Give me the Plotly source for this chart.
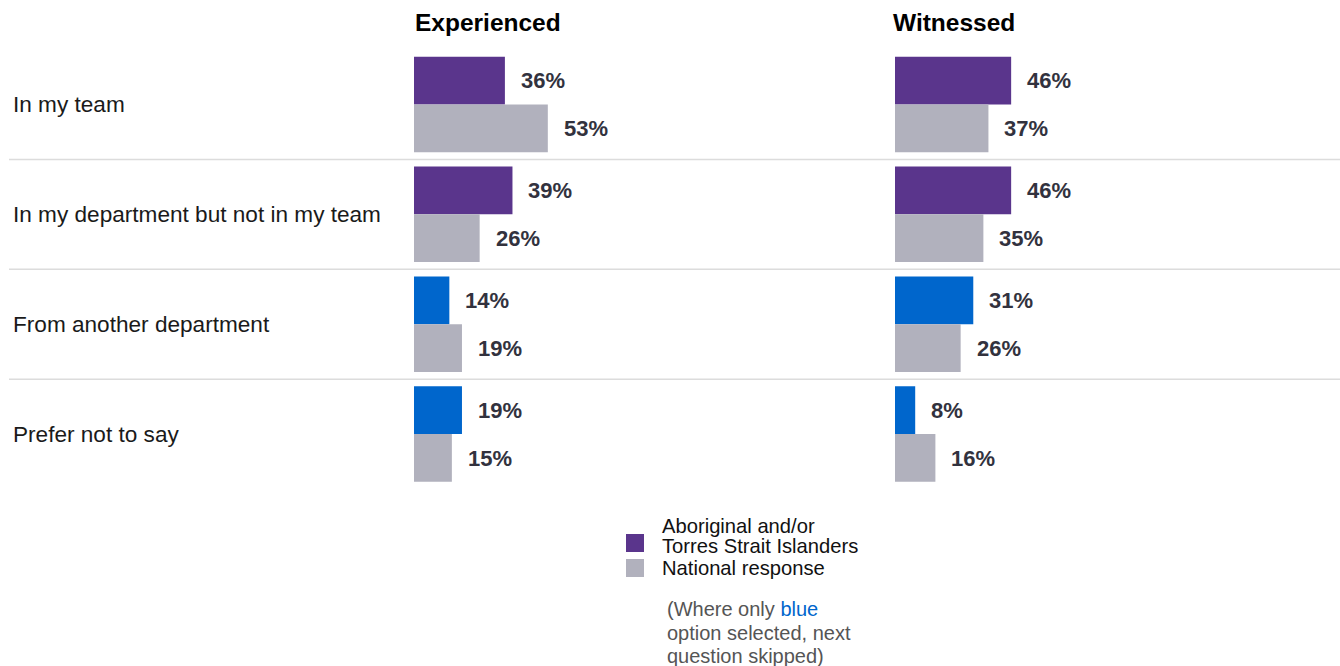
import plotly.graph_objects as go

# ---- data ----
categories = [
    "In my team",
    "In my department but not in my team",
    "From another department",
    "Prefer not to say",
]
experienced_group = [36, 39, 14, 19]
experienced_national = [53, 26, 19, 15]
witnessed_group = [46, 46, 31, 8]
witnessed_national = [37, 35, 26, 16]
# rows where only the blue option was selected (next question skipped)
blue_only = [False, False, True, True]

panel_titles = ["Experienced", "Witnessed"]
legend_group = ["Aboriginal and/or", "Torres Strait Islanders"]
legend_national = "National response"

# ---- styling ----
W, H = 1340, 666
PURPLE = "#5a358c"
BLUE = "#0066cc"
GREY = "#b1b1bd"
LABEL = "#32323e"
FONT = "Liberation Sans, Arial, sans-serif"

group_colors = [BLUE if b else PURPLE for b in blue_only]

def px_x(p):
    return p / W

def px_y(p):
    return 1 - p / H

PX_PER_PCT = 2.525
panel_left = [414, 895]

fig = go.Figure()

panels = [
    ("x", experienced_group, experienced_national),
    ("x2", witnessed_group, witnessed_national),
]
for xa, grp, nat in panels:
    fig.add_trace(go.Bar(
        y=categories, x=grp, orientation="h", xaxis=xa, yaxis="y",
        marker=dict(color=group_colors, line=dict(width=0)),
        hoverinfo="x+y", showlegend=False,
    ))
    fig.add_trace(go.Bar(
        y=categories, x=nat, orientation="h", xaxis=xa, yaxis="y",
        marker=dict(color=GREY, line=dict(width=0)),
        hoverinfo="x+y", showlegend=False,
    ))

annotations = []
# value labels
for xa, grp, nat in panels:
    for cat, g, n in zip(categories, grp, nat):
        for val, shift in ((g, 24), (n, -24)):
            annotations.append(dict(
                x=val, y=cat, xref=xa, yref="y", xanchor="left", yanchor="middle",
                xshift=14, yshift=shift, showarrow=False,
                text=f"<b>{val}%</b>",
                font=dict(family=FONT, size=22, color=LABEL),
            ))

# category labels
for cat in categories:
    annotations.append(dict(
        x=px_x(11), y=cat, xref="paper", yref="y", xanchor="left", yanchor="middle",
        showarrow=False, text=cat, font=dict(family=FONT, size=22.6, color="#1a1a1a"),
    ))

# panel titles
for title, left in zip(panel_titles, [413, 891]):
    annotations.append(dict(
        x=px_x(left), y=px_y(23), xref="paper", yref="paper", xanchor="left",
        yanchor="middle", showarrow=False, text=f"<b>{title}</b>",
        font=dict(family=FONT, size=24.5, color="#000000"),
    ))

# legend text
for line, yy in zip(legend_group, [526, 546]):
    annotations.append(dict(
        x=px_x(660), y=px_y(yy), xref="paper", yref="paper", xanchor="left",
        yanchor="middle", showarrow=False, text=line,
        font=dict(family=FONT, size=20.2, color="#111111"),
    ))
annotations.append(dict(
    x=px_x(660), y=px_y(568), xref="paper", yref="paper", xanchor="left",
    yanchor="middle", showarrow=False, text=legend_national,
    font=dict(family=FONT, size=20.2, color="#111111"),
))

# footnote
note_lines = [
    f"(Where only <span style='color:{BLUE}'>blue</span>",
    "option selected, next",
    "question skipped)",
]
for line, yy in zip(note_lines, [609, 633, 656]):
    annotations.append(dict(
        x=px_x(665), y=px_y(yy), xref="paper", yref="paper", xanchor="left",
        yanchor="middle", showarrow=False, text=line,
        font=dict(family=FONT, size=20, color="#555555"),
    ))

shapes = []
# row separators
for k in range(len(categories) - 1):
    shapes.append(dict(
        type="line", xref="paper", yref="y", x0=px_x(9), x1=1,
        y0=k + 0.5, y1=k + 0.5, line=dict(color="#dcdcdc", width=1.5),
    ))
# legend swatches
for color, top in ((PURPLE, 534), (GREY, 559)):
    shapes.append(dict(
        type="rect", xref="paper", yref="paper",
        x0=px_x(626), x1=px_x(644), y0=px_y(top + 18), y1=px_y(top),
        fillcolor=color, line=dict(width=0),
    ))

axis_common = dict(visible=False, showgrid=False, zeroline=False, range=[0, 100], fixedrange=True)
fig.update_layout(
    width=W, height=H,
    margin=dict(l=0, r=0, t=0, b=0),
    paper_bgcolor="white", plot_bgcolor="white",
    barmode="group", bargap=0.13, bargroupgap=0,
    xaxis=dict(domain=[px_x(panel_left[0]), px_x(panel_left[0] + 100 * PX_PER_PCT)], **axis_common),
    xaxis2=dict(domain=[px_x(panel_left[1]), px_x(panel_left[1] + 100 * PX_PER_PCT)], **axis_common),
    yaxis=dict(
        domain=[px_y(489), px_y(49.5)], visible=False, autorange="reversed",
        categoryorder="array", categoryarray=categories, fixedrange=True,
    ),
    annotations=annotations,
    shapes=shapes,
    showlegend=False,
    font=dict(family=FONT),
)

fig.write_html("out.html", config={"displayModeBar": False})
